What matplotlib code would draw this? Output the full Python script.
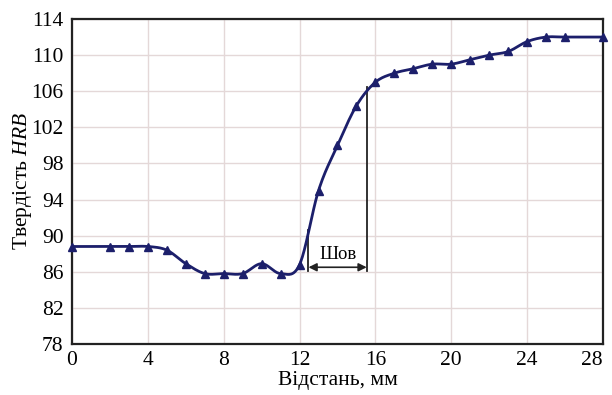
import numpy as np
import matplotlib
matplotlib.use("Agg")
import matplotlib.pyplot as plt

plt.rcParams['font.family'] = ['Liberation Serif', 'DejaVu Serif']
plt.rcParams['mathtext.fontset'] = 'custom'
plt.rcParams['mathtext.it'] = 'Liberation Serif:italic'
plt.rcParams['mathtext.rm'] = 'Liberation Serif'

distance = [0, 2, 3, 4, 5, 6, 7, 8, 9, 10, 11, 12, 13, 14, 15, 16, 17, 18, 19, 20, 21, 22, 23, 24, 25, 26, 28]
hardness = [88.8, 88.8, 88.8, 88.8, 88.4, 86.9, 85.8, 85.8, 85.8, 86.9, 85.8, 86.8, 95.0, 100.0, 104.4, 107.0, 108.0, 108.5, 109.0, 109.0, 109.5, 110.0, 110.4, 111.5, 112.0, 112.0, 112.0]
x_ticks = [0, 4, 8, 12, 16, 20, 24, 28]
y_ticks = [78, 82, 86, 90, 94, 98, 102, 106, 110, 114]
seam_start, seam_end = 12.47, 15.54
seam_level = 86.5
seam_top_left, seam_top_right = 90.6, 106.5
seam_label = "Шов"


def catmull_rom(x, y, n=20):
    x = np.asarray(x, float)
    y = np.asarray(y, float)
    px = np.concatenate([[2 * x[0] - x[1]], x, [2 * x[-1] - x[-2]]])
    py = np.concatenate([[2 * y[0] - y[1]], y, [2 * y[-1] - y[-2]]])
    xs, ys = [], []
    for i in range(1, len(px) - 2):
        t = np.linspace(0, 1, n, endpoint=False)
        for arr, out in ((px, xs), (py, ys)):
            p0, p1, p2, p3 = arr[i - 1], arr[i], arr[i + 1], arr[i + 2]
            out.append(0.5 * ((2 * p1) + (-p0 + p2) * t + (2 * p0 - 5 * p1 + 4 * p2 - p3) * t ** 2
                              + (-p0 + 3 * p1 - 3 * p2 + p3) * t ** 3))
    xs.append([x[-1]])
    ys.append([y[-1]])
    return np.concatenate(xs), np.concatenate(ys)


fig = plt.figure(figsize=(6.12, 3.95), dpi=100)
ax = fig.add_axes([72 / 612, 1 - 344 / 395, 531 / 612, 325 / 395])

sx, sy = catmull_rom(distance, hardness)
color = '#1c1f6b'
ax.plot(sx, sy, color=color, lw=2.0, zorder=3)
ax.plot(distance, hardness, ls='none', marker='^', ms=5.5, color=color, zorder=4, clip_on=False)

ax.set_xlim(0, 28)
ax.set_ylim(78, 114)
ax.set_xticks(x_ticks)
ax.set_yticks(y_ticks)
ax.grid(True, color='#e4d8d8', lw=1.0)
ax.set_axisbelow(True)
for s in ax.spines.values():
    s.set_linewidth(1.6)
    s.set_color('#222222')
ax.tick_params(axis='both', length=0, labelsize=15.5)
ax.tick_params(axis='y', pad=6)
ax.tick_params(axis='x', pad=5)
ax.get_xticklabels()[-1].set_horizontalalignment('right')

ax.set_xlabel('Відстань, мм', fontsize=15.5, labelpad=1)
ax.set_ylabel('Твердість $HRB$', fontsize=15.5, labelpad=-2)

# seam markers
ax.plot([seam_start, seam_start], [seam_level - 0.4, seam_top_left], color='#222222', lw=1.3, zorder=2)
ax.plot([seam_end, seam_end], [seam_level - 0.4, seam_top_right], color='#222222', lw=1.3, zorder=2)
ax.annotate('', xy=(seam_start, seam_level), xytext=(seam_end, seam_level),
            arrowprops=dict(arrowstyle='<|-|>', color='#222222', lw=1.2, mutation_scale=12,
                            shrinkA=0, shrinkB=0))
ax.text((seam_start + seam_end) / 2, seam_level + 0.5, seam_label, ha='center', va='bottom', fontsize=13.5)

fig.savefig('out.png', dpi=100)
